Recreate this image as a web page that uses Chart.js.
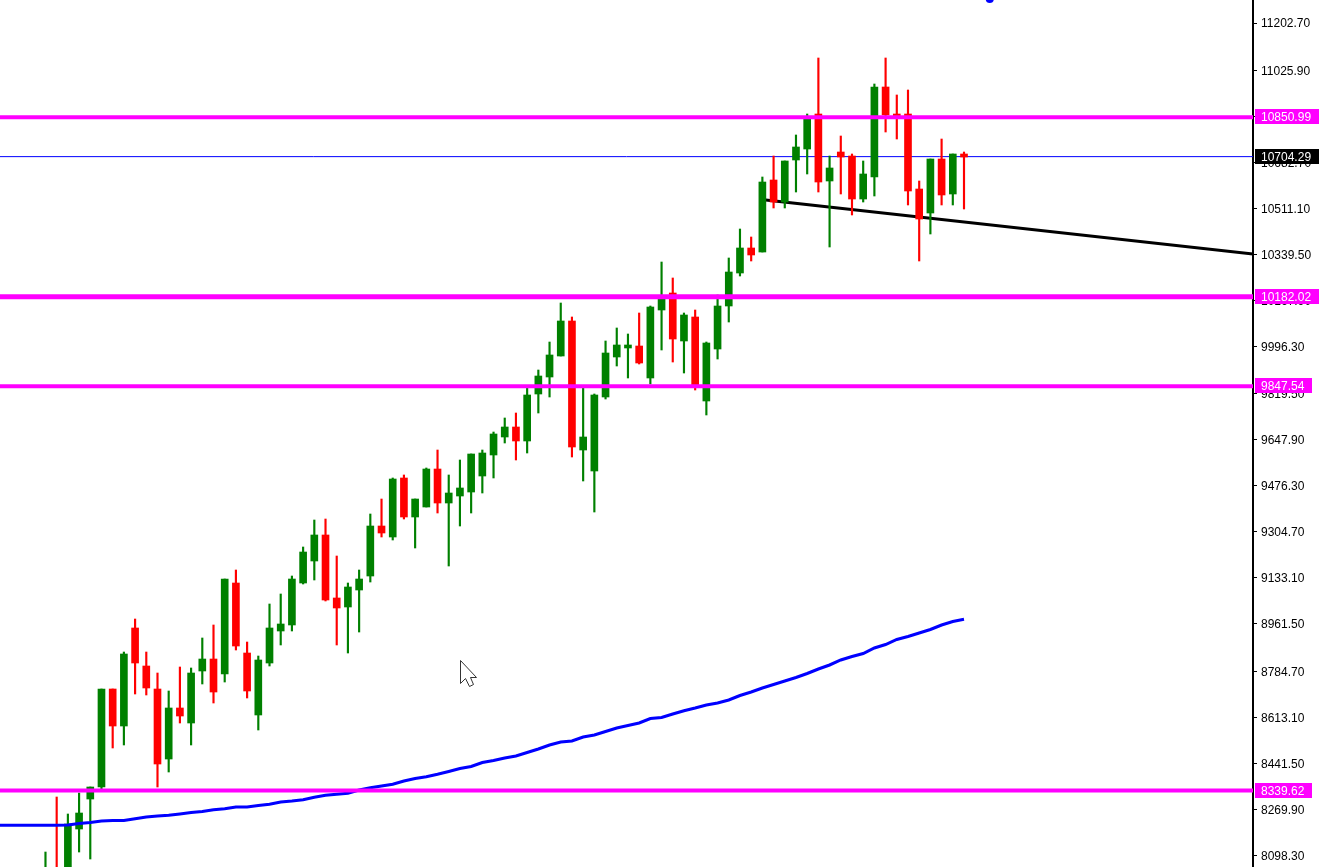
<!DOCTYPE html>
<html>
<head>
<meta charset="utf-8">
<title>Candles</title>
<script src="https://cdn.jsdelivr.net/npm/chart.js@4"></script>
<style>
  html, body { margin: 0; padding: 0; background: #fff; overflow: hidden; }
  #wrap { width: 1324px; height: 867px; }
</style>
</head>
<body>
<div id="wrap"><canvas id="candleChart"></canvas></div>
<script>
// candles (first two sit below the visible range)
const opens = [7968.8,8043.4,8006.1,8196.3,8308.2,8353.0,8718.5,8580.5,8946.1,8804.3,8718.5,8457.4,8647.7,8591.7,8785.7,8830.4,8774.5,9113.9,8852.8,8621.6,
  8815.5,8934.9,8957.3,9113.9,9196.0,9293.0,9058.0,9024.4,9087.8,9140.0,9326.5,9285.5,9505.6,9360.1,9397.4,9539.1,9412.3,9438.4,9453.3,9513.0,
  9591.4,9658.5,9695.8,9643.6,9818.9,9882.3,9960.6,10091.2,9610.0,9531.7,9807.7,9956.9,9990.5,9997.9,9878.6,10132.2,10195.6,10016.6,10106.1,9792.8,
  9986.7,10147.1,10270.2,10363.5,10348.5,10617.1,10535.0,10691.7,10732.7,10863.3,10613.4,10721.5,10706.6,10546.2,10628.3,10964.0,10863.3,10863.3,10583.5,10494.0,
  10695.4,10564.9,10714.1];
const highs = [8110.5,8315.7,8252.3,8330.6,8353.0,8718.5,8718.5,8856.5,8979.6,8856.5,8778.2,8711.1,8800.6,8796.9,8908.8,8957.3,9128.8,9162.4,8893.8,8841.6,
  9035.6,9072.9,9140.0,9248.2,9348.9,9352.6,9214.6,9113.9,9162.4,9371.3,9427.2,9505.6,9516.8,9427.2,9542.9,9610.0,9516.8,9572.7,9595.1,9610.0,
  9677.1,9729.4,9748.0,9841.3,9908.4,10012.8,10158.3,10106.1,9841.3,9818.9,10016.6,10065.1,10042.7,10121.0,10147.1,10311.2,10251.6,10121.0,10132.2,10012.8,
  10188.2,10326.2,10434.3,10404.5,10628.3,10706.6,10688.0,10785.0,10863.3,11072.2,10706.6,10781.2,10714.1,10688.0,10975.2,11072.2,10934.2,10952.8,10613.4,10695.4,
  10770.0,10714.1,10721.5];
const lows = [7931.5,7950.1,7968.8,8110.5,8084.4,8345.5,8498.5,8509.7,8699.9,8696.2,8353.0,8408.9,8591.7,8509.7,8737.2,8666.3,8744.6,8864.0,8685.0,8565.6,
  8804.3,8882.7,8934.9,9110.2,9125.1,9046.8,8882.7,8852.8,8931.1,9117.6,9285.5,9274.3,9352.6,9244.5,9397.4,9375.0,9177.3,9326.5,9375.0,9449.6,
  9505.6,9636.1,9572.7,9598.8,9748.0,9807.7,9960.6,9583.9,9494.4,9378.7,9800.2,9923.3,9878.6,9930.8,9856.2,9983.0,9938.2,9897.2,9833.8,9740.6,
  9949.4,10087.4,10259.0,10315.0,10348.5,10512.7,10512.7,10572.3,10639.5,10572.3,10367.2,10564.9,10486.6,10535.0,10557.4,10796.1,10770.0,10523.9,10315.0,10415.7,
  10523.9,10523.9,10508.9];
const closes = [8035.9,7987.5,8215.0,8256.0,8353.0,8718.5,8580.5,8849.1,8815.5,8722.3,8438.8,8647.7,8617.8,8778.2,8830.4,8707.3,9128.8,8878.9,8711.1,8826.7,
  8946.1,8961.0,9128.8,9229.5,9293.0,9050.5,9020.7,9099.0,9128.8,9326.5,9300.4,9501.8,9360.1,9427.2,9539.1,9412.3,9449.6,9468.3,9595.1,9598.8,
  9669.7,9695.8,9643.6,9815.2,9886.0,9964.4,10091.2,9621.2,9658.5,9815.2,9971.8,10001.7,10001.7,9934.5,10143.4,10184.4,10024.0,10113.6,9845.0,10009.1,
  10147.1,10273.9,10363.5,10337.4,10609.6,10535.0,10688.0,10740.2,10844.6,10609.6,10661.9,10702.9,10546.2,10639.5,10964.0,10859.6,10855.8,10576.1,10471.6,10695.4,
  10561.2,10714.1,10702.9];

// blue moving average, one value per candle
const maValues = [8210.1,8210.1,8211.3,8216.8,8220.6,8226.2,8228.0,8228.0,8234.4,8241.1,8244.8,8247.4,8252.3,8257.9,8261.6,8268.0,8271.7,8278.4,8278.4,8284.0,
  8288.5,8297.0,8300.8,8305.6,8314.6,8322.0,8325.8,8329.5,8341.8,8350.4,8356.7,8363.1,8375.4,8384.7,8391.0,8400.4,8410.8,8422.0,8429.5,8444.4,
  8451.8,8461.2,8468.6,8481.7,8494.7,8509.7,8520.8,8524.6,8539.5,8547.0,8560.0,8573.1,8582.4,8591.7,8608.5,8612.2,8625.3,8637.6,8647.7,8658.9,
  8666.3,8677.5,8694.3,8707.3,8722.3,8735.3,8748.4,8761.4,8776.3,8793.1,8808.1,8826.7,8839.8,8850.9,8871.5,8884.5,8903.2,8914.3,8927.4,8940.5,
  8957.3,8970.3,8978.5];
const maBefore = 8210.1;

// horizontal levels and their tags
const levelPrices = [10850.99, 10182.02, 9847.54, 8339.62];
const levelWidths = [4, 5, 4, 4];
const bidPrice = 10704.29;

// black trend line
const trendX = [64.3, 107.8];
const trendY = [10542.5, 10341];

// blue marker at the top edge
const markerX = 84.3;
const markerY = 11292;

const tickPrices = [11202.70, 11025.90, 10854.30, 10682.70, 10511.10, 10339.50, 10167.90, 9996.30, 9819.50, 9647.90,
  9476.30, 9304.70, 9133.10, 8961.50, 8784.70, 8613.10, 8441.50, 8269.90, 8098.30];

const xMin = -4.06, xMax = 107.8;
const yMin = 8054.6, yMax = 11288.5;

const GREEN = '#008000', RED = '#ff0000', BLUE = '#0000ff', MAGENTA = '#ff00ff';
const FONT = '12px "Liberation Sans"';

const candleColors = closes.map((c, i) => c >= opens[i] ? GREEN : RED);
const wickData = highs.map((h, i) => ({ x: i, y: [lows[i], h] }));
const bodyData = opens.map((o, i) => ({ x: i, y: [o, closes[i]] }));
const maData = [{ x: xMin, y: maBefore }].concat(maValues.map((v, i) => ({ x: i, y: v })));

function flatLine(price, color, width, order) {
  return {
    type: 'line',
    data: [{ x: xMin, y: price }, { x: xMax, y: price }],
    borderColor: color,
    borderWidth: width,
    pointRadius: 0,
    order: order
  };
}

// price tags on the axis and the mouse pointer left on the screenshot
const overlayPlugin = {
  id: 'overlay',
  afterDraw(chart) {
    const ctx = chart.ctx;
    const y = chart.scales.y;
    ctx.save();
    ctx.font = FONT;
    ctx.textBaseline = 'middle';

    function tag(price, bg, w) {
      const py = Math.round(y.getPixelForValue(price));
      ctx.fillStyle = bg;
      ctx.fillRect(1255, py - 8, w, 15);
      ctx.fillStyle = '#fff';
      ctx.fillText(price.toFixed(2), 1261, py + 1);
    }
    levelPrices.forEach(p => tag(p, MAGENTA, p >= 10000 ? 64 : 57));
    tag(bidPrice, '#000', 64);

    ctx.beginPath();
    ctx.moveTo(460.5, 660.5);
    ctx.lineTo(460.5, 683.5);
    ctx.lineTo(465.5, 678.5);
    ctx.lineTo(469.5, 686.5);
    ctx.lineTo(473.5, 684.5);
    ctx.lineTo(470.5, 677.5);
    ctx.lineTo(476.5, 677.5);
    ctx.closePath();
    ctx.fillStyle = '#fff';
    ctx.fill();
    ctx.strokeStyle = '#333';
    ctx.lineWidth = 1;
    ctx.stroke();
    ctx.restore();
  }
};

const ctx = document.getElementById('candleChart').getContext('2d');
const candleChart = new Chart(ctx, {
  type: 'bar',
  data: {
    datasets: [
      flatLine(levelPrices[0], MAGENTA, levelWidths[0], 1),
      flatLine(levelPrices[1], MAGENTA, levelWidths[1], 1),
      flatLine(levelPrices[2], MAGENTA, levelWidths[2], 1),
      flatLine(levelPrices[3], MAGENTA, levelWidths[3], 1),
      { type: 'line', data: maData, borderColor: BLUE, borderWidth: 3, pointRadius: 0, order: 2 },
      { type: 'line', data: [{ x: markerX, y: markerY }], showLine: false, pointRadius: 4, pointBackgroundColor: BLUE, pointBorderWidth: 0, order: 2 },
      { type: 'bar', data: bodyData, backgroundColor: candleColors, barThickness: 7, grouped: false, order: 3 },
      { type: 'bar', data: wickData, backgroundColor: candleColors, barThickness: 1.5, grouped: false, order: 4 },
      { type: 'line', data: trendX.map((x, i) => ({ x: x, y: trendY[i] })), borderColor: '#000', borderWidth: 3, pointRadius: 0, order: 5 },
      flatLine(bidPrice, BLUE, 1, 6)
    ]
  },
  plugins: [overlayPlugin],
  options: {
    responsive: true,
    maintainAspectRatio: false,
    animation: false,
    layout: { padding: 0, autoPadding: false },
    plugins: {
      legend: { display: false },
      tooltip: { enabled: false }
    },
    scales: {
      x: {
        type: 'linear',
        min: xMin,
        max: xMax,
        offset: false,
        display: false
      },
      y: {
        position: 'right',
        min: yMin,
        max: yMax,
        afterBuildTicks(scale) {
          scale.ticks = tickPrices.map(v => ({ value: v }));
        },
        afterFit(scale) {
          scale.width = 71;
          scale.paddingTop = 0;
          scale.paddingBottom = 0;
        },
        border: { color: '#000', width: 2 },
        grid: { drawOnChartArea: false, color: '#000', tickLength: 4 },
        ticks: {
          autoSkip: false,
          color: '#000',
          padding: 4,
          labelOffset: 1,
          font: { family: '"Liberation Sans"', size: 12 },
          callback: v => v.toFixed(2)
        }
      }
    }
  }
});
</script>
</body>
</html>
